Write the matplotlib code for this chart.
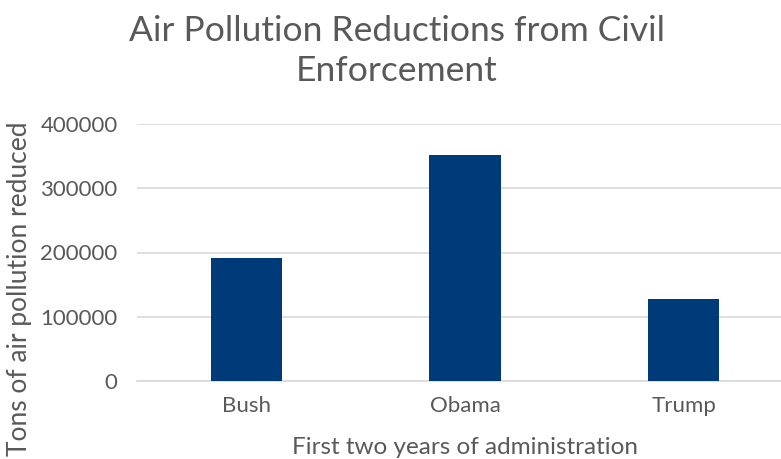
import matplotlib.pyplot as plt

administrations = ["Bush", "Obama", "Trump"]
tons_reduced = [192000, 352000, 127000]
y_ticks = [0, 100000, 200000, 300000, 400000]

plt.rcParams['font.family'] = ['Lato', 'DejaVu Sans']
text_color = "#595959"

fig = plt.figure(figsize=(7.81, 4.59), dpi=100)
# the plot area runs past the right edge of the picture, as in the reference
ax = fig.add_axes([137 / 781, 1 - 381 / 459, 656 / 781, 257 / 459])

ax.bar(administrations, tons_reduced, width=0.325, color="#003B79", zorder=3)
ax.set_ylim(0, 400000)
ax.set_xlim(-0.5, 2.5)
ax.set_yticks(y_ticks)
ax.set_yticklabels([str(v) for v in y_ticks])
ax.grid(axis="y", color="#D9D9D9", linewidth=1.2, zorder=0)
for side in ["top", "right", "left"]:
    ax.spines[side].set_visible(False)
ax.spines["bottom"].set_color("#D9D9D9")
ax.spines["bottom"].set_linewidth(1.2)
ax.tick_params(length=0, labelsize=16, colors=text_color)
ax.tick_params(axis="y", pad=14)
ax.tick_params(axis="x", pad=11)

fig.text(397 / 781, 1 - 51 / 459, "Air Pollution Reductions from Civil\nEnforcement",
         ha="center", va="center", fontsize=25.5, color=text_color, linespacing=1.3)
fig.text(465 / 781, 1 - 447 / 459, "First two years of administration",
         ha="center", va="center", fontsize=17.5, color=text_color)
fig.text(20 / 781, 1 - 289 / 459, "Tons of air pollution reduced", rotation=90,
         ha="center", va="center", fontsize=19, color=text_color)

fig.savefig("out.png", dpi=100)
